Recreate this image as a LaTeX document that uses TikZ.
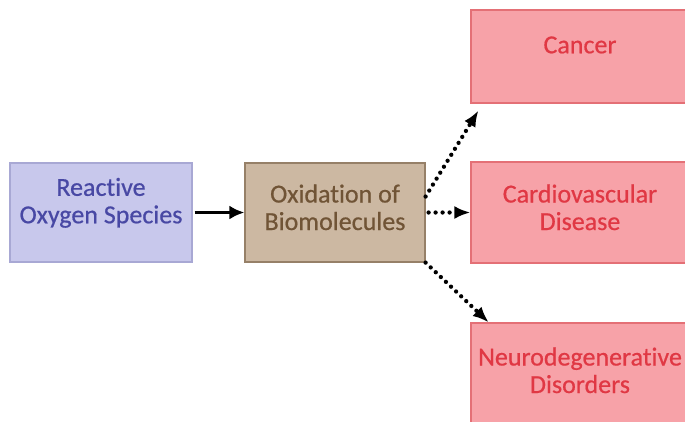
\documentclass[tikz,border=0pt]{standalone}
\usepackage{fontspec}
\setmainfont{Carlito}[Ligatures=CommonOff, FakeBold=0.6]
\usepackage{xcolor}
\usepackage{tikz}
\usetikzlibrary{arrows.meta, positioning, calc}

\definecolor{rosfill}{RGB}{200,200,236}
\definecolor{rosline}{RGB}{168,168,212}
\definecolor{rostext}{RGB}{72,72,164}
\definecolor{oxfill}{RGB}{204,184,162}
\definecolor{oxline}{RGB}{150,128,104}
\definecolor{oxtext}{RGB}{112,84,54}
\definecolor{disfill}{RGB}{247,162,168}
\definecolor{disline}{RGB}{228,112,118}
\definecolor{distext}{RGB}{224,56,68}

\tikzset{
  box/.style={draw, line width=1.2pt, align=center, inner sep=2pt,
    text depth=10pt, font=\fontsize{26}{27.5}\selectfont},
  rosbox/.style={box, fill=rosfill, draw=rosline, text=rostext,
    minimum width=182pt, minimum height=99pt},
  oxbox/.style={box, fill=oxfill, draw=oxline, text=oxtext,
    minimum width=180pt, minimum height=99pt},
  disbox/.style={box, fill=disfill, draw=disline, text=distext,
    minimum width=218pt},
  leads/.style={-{Latex[length=15pt,width=14pt]}, line width=3pt},
  maylead/.style={-{Latex[length=16pt,width=13pt]}, line width=4.3pt,
    dash pattern=on 0pt off 7pt, line cap=round}
}

\begin{document}
\begin{tikzpicture}[x=1pt,y=-1pt]
  \useasboundingbox (0,0) rectangle (685,421);

  % boxes (text height sets where the last line sits)
  \node[rosbox, text height=31.6pt] (ros) at (101,212.5) {Reactive\\Oxygen Species};
  \node[oxbox, text height=45pt] (oxid) at (335,212.5) {Oxidation of\\Biomolecules};
  \node[disbox, minimum height=93pt, text height=3.6pt] (cancer) at (580,56.5) {Cancer};
  \node[disbox, minimum height=101pt, text height=45pt] (cardio) at (580,212.5) {Cardiovascular\\Disease};
  \node[disbox, minimum height=100pt, text height=50pt] (neuro) at (580,373) {Neurodegenerative\\Disorders};

  \coordinate (cantip) at ([xshift=8pt,yshift=-7pt]cancer.south west);

  % ROS -> oxidation
  \draw[leads, shorten <=2pt] (ros.east) -- (oxid.west);

  % oxidation -> diseases
  \draw[maylead] (oxid.10) -- (cantip);
  \draw[maylead, shorten <=3pt] (oxid.east) -- (cardio.west);
  \draw[maylead] (oxid.south east) -- (neuro.151);
\end{tikzpicture}
\end{document}
